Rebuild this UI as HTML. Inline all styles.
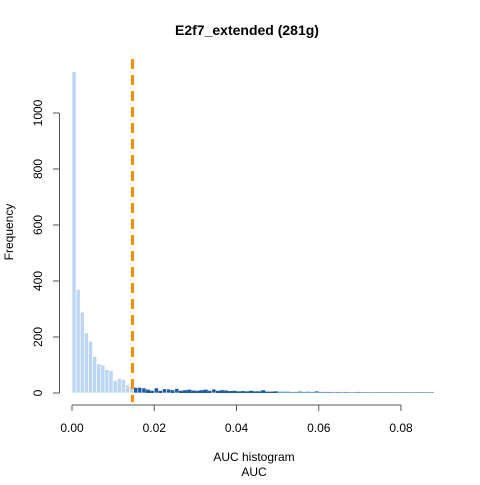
<!DOCTYPE html>
<html><head><meta charset="utf-8"><style>
body{margin:0;background:#fff;font-family:"Liberation Sans",sans-serif}
</style></head><body>
<svg id="chart" width="480" height="480" xmlns="http://www.w3.org/2000/svg" font-family="Liberation Sans, sans-serif">
<text x="247" y="35" text-anchor="middle" font-size="14" font-weight="bold">E2f7_extended (281g)</text>
<g id="bars"></g>
<g id="axes"></g>
<text x="254" y="461" text-anchor="middle" font-size="12">AUC histogram</text>
<text x="254" y="476" text-anchor="middle" font-size="12">AUC</text>
<text transform="translate(13,232) rotate(-90)" text-anchor="middle" font-size="12">Frequency</text>
</svg>
<script>
const binWidth = 0.001;
const counts = [1148,370,288,215,185,130,105,100,83,80,45,52,48,29,22,
20,20,18,12,8,18,8,15,14,10,16,8,10,12,9,8,10,12,8,14,8,10,9,7,8,6,7,6,8,6,6,10,5,5,6,
5,5,5,4,4,6,4,5,4,7,4,4,4,3,4,3,4,3,3,4,3,3,3,3,3,3,3,3,3,3,3,3,3,3,3,3,3,3];
const threshold = 0.0147;
const xTicks = [0,0.02,0.04,0.06,0.08];
const xTickLabels = ["0.00","0.02","0.04","0.06","0.08"];
const yTicks = [0,200,400,600,800,1000];

const NS="http://www.w3.org/2000/svg";
const x = v => 72 + v/0.08*329;
const y = v => 393 - v*0.28;
const bars=document.getElementById('bars'), axes=document.getElementById('axes');
function mk(tag, attrs, parent){const e=document.createElementNS(NS,tag);for(const k in attrs)e.setAttribute(k,attrs[k]);parent.appendChild(e);return e;}
counts.forEach((c,i)=>{
  const x0=x(i*binWidth), x1=x((i+1)*binWidth);
  const light = i*binWidth < threshold-0.0001;
  const col = light ? '#bdd7f2' : (i*binWidth < 0.05 ? '#1f5aa8' : '#6f9fd6');
  const r=mk('rect',{x:x0,y:y(c),width:Math.max(0,x1-x0),height:393-y(c),fill:col,stroke:c>12?'#fff':'none','stroke-width':0.6},bars);
  
  
});
const th=mk('line',{x1:x(threshold),x2:x(threshold),y1:59,y2:402,stroke:'#ff8c00','stroke-width':3,'stroke-dasharray':'10 6'},bars);


mk('line',{x1:x(0),x2:x(0.08),y1:405,y2:405,stroke:'#555'},axes);
xTicks.forEach((t,i)=>{
  mk('line',{x1:x(t),x2:x(t),y1:405,y2:411,stroke:'#555'},axes);
  const tx=mk('text',{x:x(t),y:432,'text-anchor':'middle','font-size':12},axes);
  tx.textContent=xTickLabels[i];
  
  
});
mk('line',{x1:59.5,x2:59.5,y1:y(0),y2:y(1000),stroke:'#555'},axes);
yTicks.forEach(t=>{
  mk('line',{x1:53,x2:59.5,y1:y(t),y2:y(t),stroke:'#555'},axes);
  const tx=mk('text',{transform:`translate(42,${y(t)}) rotate(-90)`,'text-anchor':'middle','font-size':12},axes);
  tx.textContent=t;
  
  
});
</script>
</body></html>
